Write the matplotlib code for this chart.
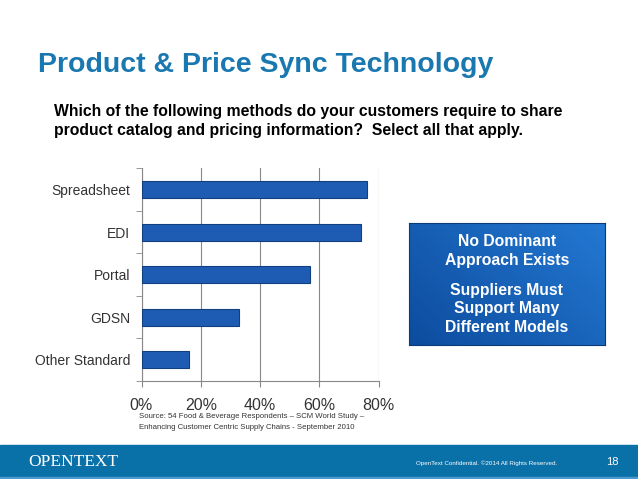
import numpy as np
import matplotlib.pyplot as plt
from matplotlib.patches import Rectangle

plt.rcParams['font.family'] = ['Liberation Sans', 'DejaVu Sans']

# Survey answers, bottom to top as drawn
methods = ["Other Standard", "GDSN", "Portal", "EDI", "Spreadsheet"]
shares = [0.16, 0.33, 0.57, 0.74, 0.76]
x_ticks = [0, 0.2, 0.4, 0.6, 0.8]
x_labels = ["0%", "20%", "40%", "60%", "80%"]

W, H = 638, 479
fig = plt.figure(figsize=(W / 100, H / 100), dpi=100)
fig.patch.set_facecolor('white')

# Title and question
fig.text(38 / W, 1 - 72 / H, "Product & Price Sync Technology", fontsize=20.5,
         fontweight='bold', color='#1a78b0', va='baseline')
question = ["Which of the following methods do your customers require to share",
            "product catalog and pricing information?  Select all that apply."]
for i, line in enumerate(question):
    fig.text(54 / W, 1 - (116 + 19 * i) / H, line, fontsize=11.3,
             fontweight='bold', color='black', va='baseline')

# Bar chart
ax = fig.add_axes([141.5 / W, 1 - 381 / H, 237 / W, 212.7 / H])
y = np.arange(len(methods))
ax.barh(y, shares, height=0.4, color='#1e5cb3', edgecolor='#123f80', linewidth=0.8, zorder=3)
ax.set_xlim(0, 0.8)
ax.set_ylim(-0.5, len(methods) - 0.5)
ax.set_xticks(x_ticks)
ax.set_xticklabels(x_labels, fontsize=11.5, color='#333333')
ax.set_yticks(y)
ax.set_yticklabels(methods, fontsize=10, color='#333333')
ax.tick_params(axis='y', length=0, pad=8)
ax.set_yticks(np.arange(-0.5, len(methods)), minor=True)
ax.tick_params(axis='y', which='minor', length=4, color='#888888')
ax.tick_params(axis='x', length=4, color='#888888', pad=8)
ax.grid(axis='x', color='#888888', linewidth=0.8, zorder=0)
for s in ['top', 'right']:
    ax.spines[s].set_visible(False)
for s in ['left', 'bottom']:
    ax.spines[s].set_color('#888888')

source = ["Source: 54 Food & Beverage Respondents \u2013 SCM World Study \u2013",
          "Enhancing Customer Centric Supply Chains - September 2010"]
for i, line in enumerate(source):
    fig.text(139 / W, 1 - (418 + 11 * i) / H, line, fontsize=5.6,
             color='#333333', va='baseline')

# Call-out box with gradient
bx = fig.add_axes([409 / W, 1 - 345 / H, 196 / W, 122 / H])
gx, gy = np.meshgrid(np.linspace(0, 1, 100), np.linspace(0, 1, 100))
grad = 0.6 * gx + 0.4 * (1 - gy)
bx.imshow(grad, cmap=plt.matplotlib.colors.LinearSegmentedColormap.from_list(
    'box', ['#0d4c9e', '#2378d2']), aspect='auto', extent=[0, 1, 0, 1], origin='upper')
bx.set_xticks([])
bx.set_yticks([])
for s in bx.spines.values():
    s.set_color('#0a3a78')
box_lines = [("No Dominant", 241), ("Approach Exists", 261),
             ("Suppliers Must", 290), ("Support Many", 309), ("Different Models", 328)]
for line, py in box_lines:
    fig.text(507 / W, 1 - py / H, line, ha='center', va='center',
             fontsize=11.3, fontweight='bold', color='white')

# Footer band
fig.patches.append(Rectangle((0, 1 - 477 / H), 1, 32 / H, transform=fig.transFigure,
                             color='#0a70a8', zorder=0))
fig.patches.append(Rectangle((0, 0), 1, 2 / H, transform=fig.transFigure,
                             color='#4a9ad0', zorder=0))
fig.text(28 / W, 1 - 466 / H, "OPENTEXT", fontsize=12.5, color='white',
         family='Liberation Serif', va='baseline')
fig.text(557 / W, 1 - 465 / H, "OpenText Confidential. \u00a92014 All Rights Reserved.",
         fontsize=4.5, color='white', ha='right', va='baseline')
fig.text(612 / W, 1 - 465 / H, "18", fontsize=8, color='white', ha='center', va='baseline')

fig.savefig("out.png", dpi=100)
